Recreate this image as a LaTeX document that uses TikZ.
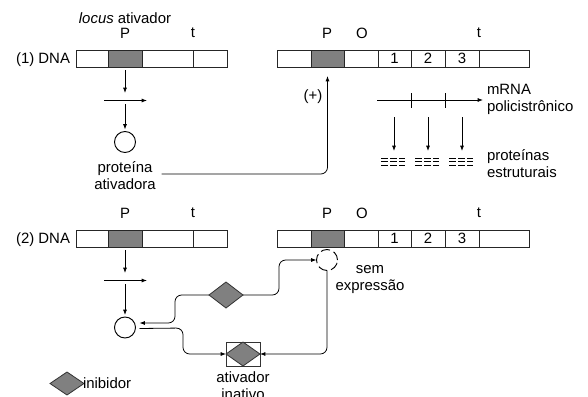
\documentclass[tikz,border=0pt]{standalone}
\usepackage{fontspec}
\setmainfont{Liberation Sans}
\usetikzlibrary{arrows.meta,shapes.geometric,fit,calc}
\definecolor{dg}{HTML}{808080}
\begin{document}
\begin{tikzpicture}[x=0.75pt,y=-0.75pt,
  every node/.style={font=\fontsize{11.2}{12.75}\selectfont, inner sep=0pt, outer sep=0pt},
  seg/.style={draw=black!85, line width=0.7pt},
  pseg/.style={seg, fill=dg},
  arr/.style={-{Latex[length=4pt,width=3pt]}, line width=0.6pt},
  conn/.style={arr, rounded corners=5pt},
  ring/.style={circle, draw, line width=0.7pt, minimum size=15.75pt},
  dring/.style={circle, draw, line width=0.7pt, minimum size=15.75pt, dash pattern=on 7pt off 3pt},
  gem/.style={diamond, draw=black!80, fill=dg, line width=0.6pt, minimum width=25.5pt, minimum height=19.5pt},
  dashrow/.style={line width=0.6pt, dash pattern=on 4.9pt off 1.9pt}
]
\useasboundingbox (0,0) rectangle (588,396);

% DNA rows
\foreach \r/\y in {1/50, 2/230}{
  \node[seg,  fit={(76,\y)(108,\y+17)}]  (L\r a) {};
  \node[pseg, fit={(108,\y)(142,\y+17)}] (L\r P) {};
  \node[seg,  fit={(142,\y)(193,\y+17)}] (L\r b) {};
  \node[seg,  fit={(193,\y)(227,\y+17)}] (L\r t) {};
  \node[seg,  fit={(277,\y)(311,\y+17)}] (R\r a) {};
  \node[pseg, fit={(311,\y)(344,\y+17)}] (R\r P) {};
  \node[seg,  fit={(344,\y)(378,\y+17)}] (R\r O) {};
  \node[seg,  fit={(378,\y)(411,\y+17)}] (R\r g1) {};
  \node[seg,  fit={(411,\y)(445,\y+17)}] (R\r g2) {};
  \node[seg,  fit={(445,\y)(479,\y+17)}] (R\r g3) {};
  \node[seg,  fit={(479,\y)(529,\y+17)}] (R\r t) {};
  \node (N\r a) at (R\r g1.center) {1};
  \node (N\r b) at (R\r g2.center) {2};
  \node (N\r c) at (R\r g3.center) {3};
  \node (lP\r) at (125,\y-17) {P};
  \node (lt\r) at (193,\y-17) {t};
  \node (rP\r) at (327,\y-17) {P};
  \node (rO\r) at (362,\y-17) {O};
  \node (rt\r) at (479,\y-17) {t};
  \node[anchor=base east] (dna\r) at (70,\y+13.5) {(\r) DNA};
  % transcription / translation arrows
  \coordinate (da\r) at (125,\y+43);
  \coordinate (hs\r) at (104,\y+50.5);
  \coordinate (he\r) at (147,\y+50.5);
  \coordinate (db\r) at (125,\y+54);
  \draw[arr] ($(L\r P.south)+(0,3)$) -- (da\r);
  \draw[arr] (hs\r) -- (he\r);
}

\node[anchor=base] (locus) at (125,23.3) {\textit{locus} ativador};

% row 1
\node[ring] (circ1) at (125,142) {};
\draw[arr] (db1) -- ($(circ1.north)+(0,-2)$);
\node[align=center] (prot1) at (125,176) {proteína\\ativadora};
\draw[conn] ($(prot1.east)+(6,-2)$) -| ($(R1P.south)+(0,9)$);
\node[anchor=base] (plus) at (313,100.3) {(+)};

\coordinate (ms) at (377,100);
\coordinate (me) at (483,100);
\draw[arr] (ms) -- (me);
\draw[line width=0.6pt] (R1g2.west |- 0,93) -- (R1g2.west |- 0,108);
\draw[line width=0.6pt] (R1g3.west |- 0,93) -- (R1g3.west |- 0,108);
\node[align=left, anchor=west] (mrna) at (487,99.5) {mRNA\\policistrônico};

\foreach \cx in {394,428,462}{
  \draw[arr] (\cx,117) -- (\cx,151);
  \foreach \yy in {158,161.5,165}{
    \draw[dashrow] (\cx-13,\yy) -- (\cx+11,\yy);
  }
}
\node[align=left, anchor=west] (pest) at (487,163.5) {proteínas\\estruturais};

% row 2
\node[ring] (circ2) at (125,327.5) {};
\draw[arr] (db2) -- ($(circ2.north)+(0,-2)$);
\node[gem] (inh) at (226,295) {};
\node[dring] (dc) at (327,260) {};
\node[align=center] (sem) at (370,280) {sem\\expressão};
\node[draw=black!80, line width=0.6pt, minimum width=25.5pt, minimum height=18pt] (ibox) at (243,354) {};
\node[gem, minimum height=18pt] (igem) at (243,354) {};
\node[align=center] (inat) at (243,386) {ativador\\inativo};

\draw[conn] (inh.west) -- (175,295) -- (175,323) -- ($(circ2.east)+(4,-4.5)$);
\draw[conn] (inh.east) -- (279,295) |- (dc.west);
\draw[conn] (dc.south) |- (ibox.east);
\draw[conn] ($(circ2.east)+(4,1)$) -- (183,328) |- (ibox.west);

% legend
\node[gem, minimum height=17.25pt] (leg) at (67,383.5) {};
\node[anchor=west] (legt) at (83,383) {inibidor};
\end{tikzpicture}
\end{document}
